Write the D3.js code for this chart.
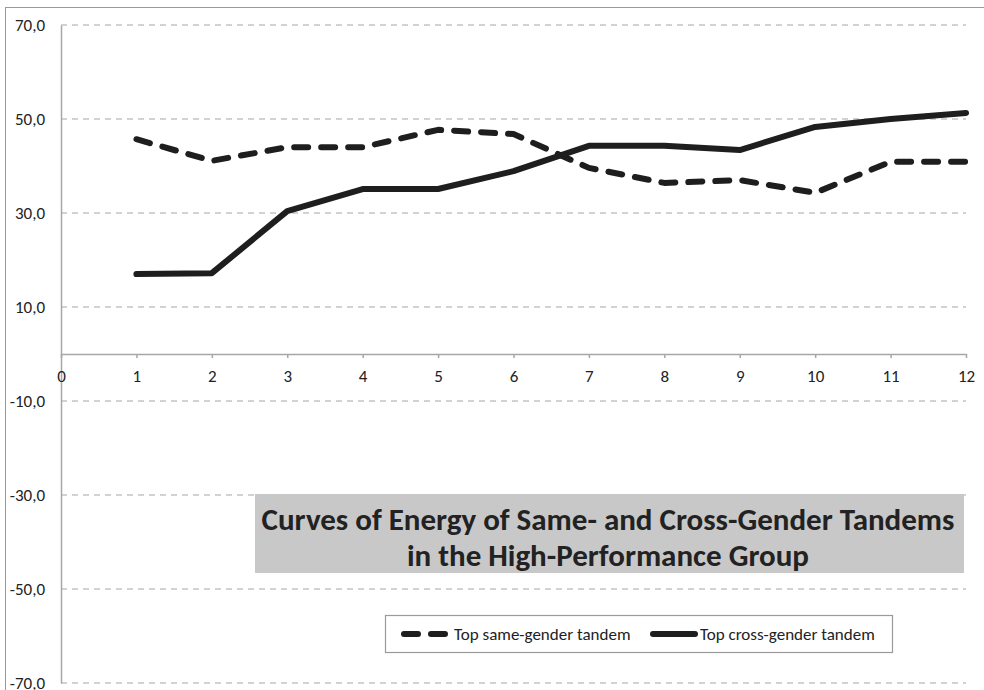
<!DOCTYPE html>
<html>
<head>
<meta charset="utf-8">
<script src="https://cdn.jsdelivr.net/npm/d3@7"></script>
<style>
  html, body { margin: 0; padding: 0; background: #fff; }
  svg { display: block; }
</style>
</head>
<body>
<svg id="chart" width="984" height="690"></svg>
<script>
// Energy curves per session for the two top tandems
const sessions = [1, 2, 3, 4, 5, 6, 7, 8, 9, 10, 11, 12];
const sameGender = [45.7, 41.1, 44.0, 44.0, 47.7, 46.8, 39.6, 36.4, 37.0, 34.3, 40.9, 40.9];
const crossGender = [17.0, 17.2, 30.4, 35.1, 35.1, 38.9, 44.3, 44.3, 43.4, 48.3, 50.0, 51.3];
const yTicks = [70, 50, 30, 10, -10, -30, -50, -70];
const xTicks = [0, 1, 2, 3, 4, 5, 6, 7, 8, 9, 10, 11, 12];
const seriesNames = ["Top same-gender tandem", "Top cross-gender tandem"];
const titleLines = ["Curves of Energy of Same- and Cross-Gender Tandems", "in the High-Performance Group"];

const svg = d3.select("#chart");
const font = "Calibri, Carlito, Lato, sans-serif";

// outer frame
svg.append("rect").attr("x", 5.5).attr("y", 7.5).attr("width", 990).attr("height", 700)
  .attr("fill", "none").attr("stroke", "#9a9a9a").attr("stroke-width", 1);

const x = d3.scaleLinear().domain([0, 12]).range([61, 966]);
const y = d3.scaleLinear().domain([-70, 70]).range([683, 25]);

// decimal comma with a plain hyphen for negatives
const fmtY = d => (d < 0 ? "-" : "") + Math.abs(d).toFixed(1).replace(".", ",");

// horizontal dashed gridlines
svg.append("g").selectAll("line").data(yTicks).join("line")
  .attr("x1", x(0)).attr("x2", x(12))
  .attr("y1", d => y(d)).attr("y2", d => y(d))
  .attr("stroke", "#a6a6a6").attr("stroke-width", 1.2)
  .attr("stroke-dasharray", "6,5");

// y axis
const yAxis = svg.append("g").attr("transform", `translate(${x(0)},0)`)
  .call(d3.axisLeft(y).tickValues(yTicks).tickSize(0).tickPadding(16).tickFormat(fmtY));
yAxis.select(".domain").attr("stroke", "#a6a6a6").attr("stroke-width", 1.5);
yAxis.selectAll("text").attr("font-family", font).attr("font-size", 17).attr("fill", "#222");

// x axis through zero
const xAxis = svg.append("g").attr("transform", `translate(0,${y(0)})`)
  .call(d3.axisBottom(x).tickValues(xTicks).tickSize(4).tickSizeOuter(0).tickPadding(12)
    .tickFormat(d3.format("d")));
xAxis.select(".domain").attr("stroke", "#a6a6a6").attr("stroke-width", 1.5);
xAxis.selectAll(".tick line").attr("stroke", "#a6a6a6").attr("stroke-width", 1.5);
xAxis.selectAll("text").attr("font-family", font).attr("font-size", 17).attr("fill", "#222");

const line = d3.line().x((d, i) => x(sessions[i])).y(d => y(d));

svg.append("path").datum(sameGender).attr("d", line)
  .attr("fill", "none").attr("stroke", "#1e1e1e").attr("stroke-width", 6)
  .attr("stroke-linecap", "round").attr("stroke-linejoin", "round")
  .attr("stroke-dasharray", "14,13");

svg.append("path").datum(crossGender).attr("d", line)
  .attr("fill", "none").attr("stroke", "#1e1e1e").attr("stroke-width", 6)
  .attr("stroke-linecap", "round").attr("stroke-linejoin", "round");

// title box
svg.append("rect").attr("x", 255).attr("y", 494).attr("width", 709).attr("height", 79)
  .attr("fill", "#c8c8c8");
svg.append("g").selectAll("text").data(titleLines).join("text")
  .attr("x", 608).attr("y", (d, i) => 530 + i * 36)
  .attr("text-anchor", "middle")
  .attr("font-family", font).attr("font-weight", "bold").attr("font-size", 31)
  .attr("fill", "#222").text(d => d);

// legend
svg.append("rect").attr("x", 385.5).attr("y", 615.5).attr("width", 507).attr("height", 37)
  .attr("fill", "#fff").attr("stroke", "#9a9a9a").attr("stroke-width", 1.2);
const lg = svg.append("g").attr("transform", "translate(0,634)");
lg.append("line").attr("x1", 404).attr("x2", 448).attr("y1", 0).attr("y2", 0)
  .attr("stroke", "#1e1e1e").attr("stroke-width", 6).attr("stroke-linecap", "round")
  .attr("stroke-dasharray", "14,13");
lg.append("text").attr("x", 454).attr("y", 6).attr("font-family", font).attr("font-size", 17)
  .attr("fill", "#222").text(seriesNames[0]);
lg.append("line").attr("x1", 653).attr("x2", 695).attr("y1", 0).attr("y2", 0)
  .attr("stroke", "#1e1e1e").attr("stroke-width", 6).attr("stroke-linecap", "round");
lg.append("text").attr("x", 700).attr("y", 6).attr("font-family", font).attr("font-size", 17)
  .attr("fill", "#222").text(seriesNames[1]);
</script>
</body>
</html>
